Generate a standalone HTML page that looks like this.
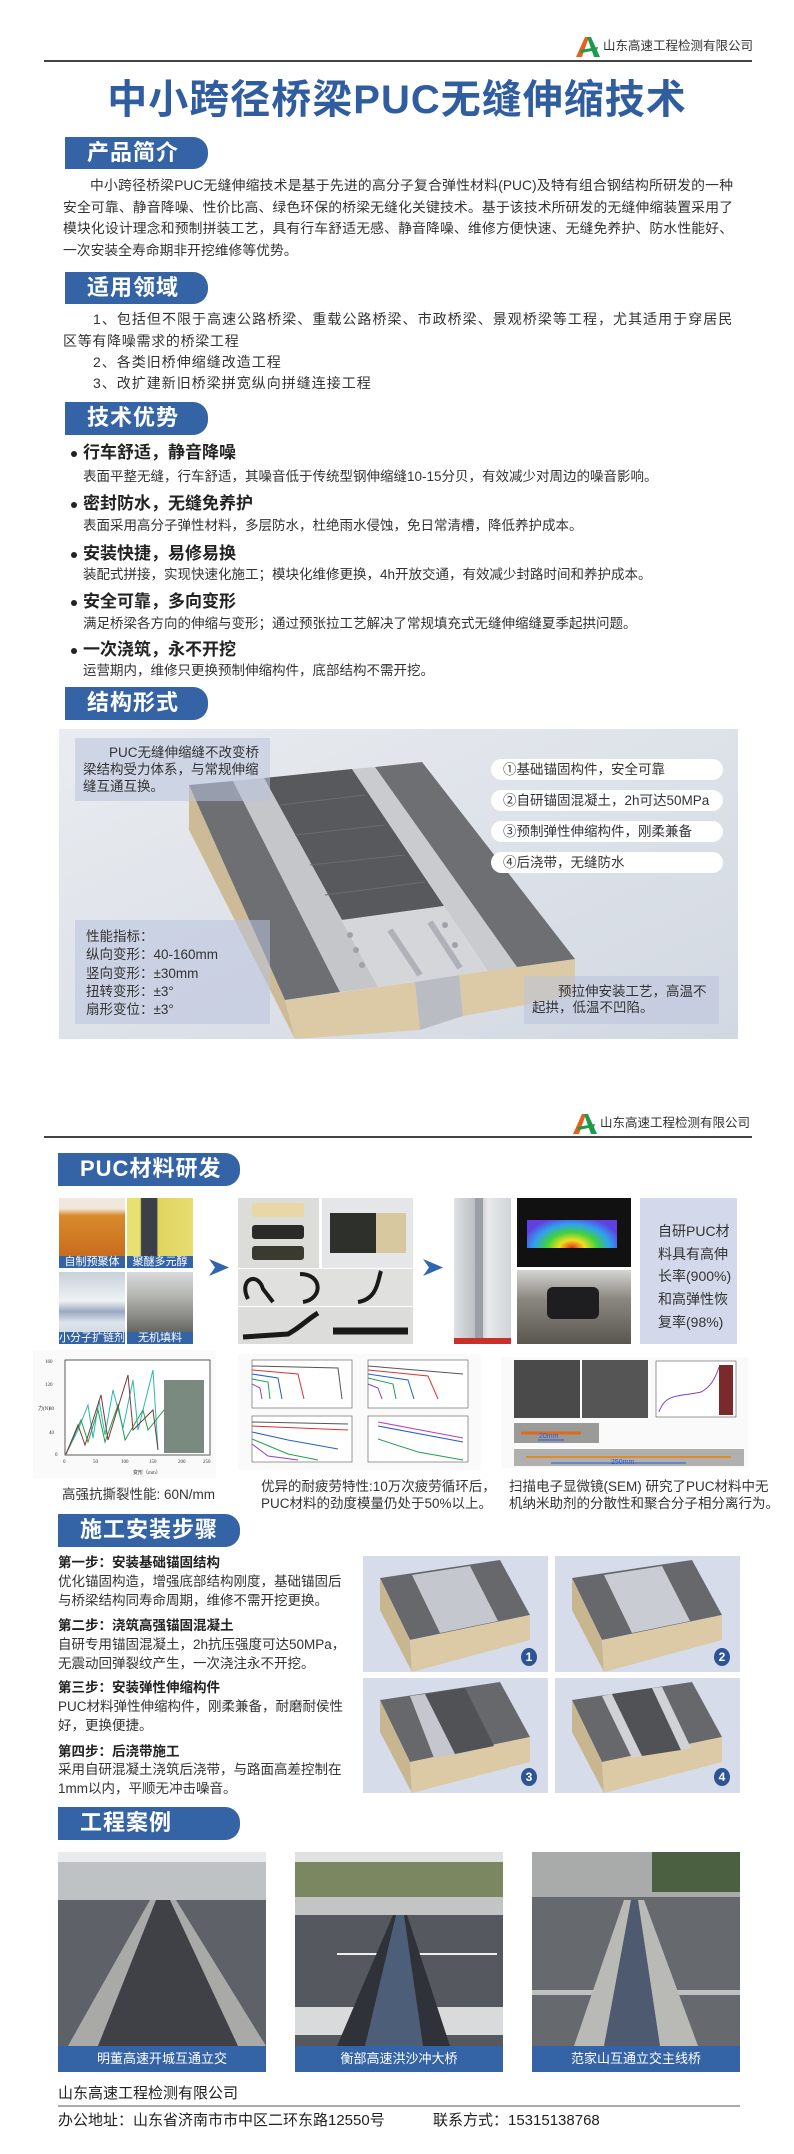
<!DOCTYPE html>
<html><head><meta charset="utf-8">
<style>
*{margin:0;padding:0;box-sizing:border-box}
body{width:794px;height:2154px;position:relative;background:#fff;font-family:"Liberation Sans","Noto Sans CJK SC",sans-serif;color:#333;overflow:hidden}
.a{position:absolute}
.tab{position:absolute;background:#3564a6;color:#fff;font-weight:bold;font-size:22px;border-radius:0 15px 15px 0;line-height:32px;padding-left:22px;letter-spacing:1px}
.t14{font-size:14px;line-height:21.6px;color:#333}
.bt{position:absolute;left:83px;font-size:17px;font-weight:bold;color:#222;line-height:20px}
.bt:before{content:"";position:absolute;left:-12px;top:8px;width:6px;height:6px;border-radius:50%;background:#222}
.bd{position:absolute;left:83px;font-size:13.5px;color:#333;line-height:18px}
.pill{position:absolute;left:491px;width:232px;height:21px;background:#fff;border-radius:11px;font-size:13.5px;line-height:21px;padding-left:12px;color:#333}
.box{position:absolute;background:rgba(185,195,220,0.55);font-size:13.5px;color:#333}
.st{position:absolute;left:58px;font-size:13.5px;font-weight:bold;color:#222;line-height:18px}
.sd{position:absolute;left:58px;font-size:13.5px;color:#333;line-height:18.5px;width:290px}
.lbl{position:absolute;background:#3564a6;color:#fff;font-size:11px;line-height:12px;text-align:center}
.cap{position:absolute;background:#3564a6;color:#fff;font-size:13px;line-height:26px;text-align:center;height:26px}
.num{position:absolute;width:16px;height:18px;border-radius:50%;background:#2d5496;color:#fff;font-size:12px;font-weight:bold;line-height:18px;text-align:center}
</style></head><body>

<svg class="a" style="left:576px;top:37px" width="26" height="20" viewBox="0 0 26 20"><polygon points="0,20 9,0 13,0 6,20" fill="#e8601c"/><polygon points="11,0 15,0 24,20 18,20" fill="#1e9b4a"/><polygon points="4,13 22,10 21,13 5,16" fill="#1e9b4a"/></svg>
<div class="a" style="left:603px;top:38px;font-size:12.5px;line-height:16px;color:#333">山东高速工程检测有限公司</div>
<div class="a" style="left:44px;top:60px;width:708px;height:2px;background:#444"></div>
<div class="a" style="left:0;width:794px;top:76px;text-align:center;font-size:40px;line-height:48px;font-weight:bold;color:#2f5d9f;letter-spacing:1px">中小跨径桥梁PUC无缝伸缩技术</div>

<div class="tab" style="left:65px;top:137px;width:143px;height:32px">产品简介</div>
<div class="a t14" style="left:63px;top:175px;width:670px;font-size:13.8px;text-align:justify;text-indent:27px">中小跨径桥梁PUC无缝伸缩技术是基于先进的高分子复合弹性材料(PUC)及特有组合钢结构所研发的一种安全可靠、静音降噪、性价比高、绿色环保的桥梁无缝化关键技术。基于该技术所研发的无缝伸缩装置采用了模块化设计理念和预制拼装工艺，具有行车舒适无感、静音降噪、维修方便快速、无缝免养护、防水性能好、一次安装全寿命期非开挖维修等优势。</div>

<div class="tab" style="left:65px;top:272px;width:143px;height:32px">适用领域</div>
<div class="a t14" style="left:63px;top:309px;width:670px;text-align:justify;text-indent:30px;letter-spacing:0.7px">1、包括但不限于高速公路桥梁、重载公路桥梁、市政桥梁、景观桥梁等工程，尤其适用于穿居民区等有降噪需求的桥梁工程</div>
<div class="a t14" style="left:93px;top:352px;letter-spacing:1px">2、各类旧桥伸缩缝改造工程</div>
<div class="a t14" style="left:93px;top:373px;letter-spacing:1px">3、改扩建新旧桥梁拼宽纵向拼缝连接工程</div>

<div class="tab" style="left:65px;top:402px;width:143px;height:33px">技术优势</div>
<div class="bt" style="top:443px">行车舒适，静音降噪</div>
<div class="bd" style="top:468px">表面平整无缝，行车舒适，其噪音低于传统型钢伸缩缝10-15分贝，有效减少对周边的噪音影响。</div>
<div class="bt" style="top:494px">密封防水，无缝免养护</div>
<div class="bd" style="top:517px">表面采用高分子弹性材料，多层防水，杜绝雨水侵蚀，免日常清槽，降低养护成本。</div>
<div class="bt" style="top:544px">安装快捷，易修易换</div>
<div class="bd" style="top:566px">装配式拼接，实现快速化施工；模块化维修更换，4h开放交通，有效减少封路时间和养护成本。</div>
<div class="bt" style="top:592px">安全可靠，多向变形</div>
<div class="bd" style="top:615px">满足桥梁各方向的伸缩与变形；通过预张拉工艺解决了常规填充式无缝伸缩缝夏季起拱问题。</div>
<div class="bt" style="top:640px">一次浇筑，永不开挖</div>
<div class="bd" style="top:662px">运营期内，维修只更换预制伸缩构件，底部结构不需开挖。</div>

<div class="tab" style="left:65px;top:687px;width:143px;height:33px">结构形式</div>

<svg class="a" style="left:59px;top:729px" width="679" height="310" viewBox="59 729 679 310">
<defs><linearGradient id="bg" x1="0" y1="0" x2="1" y2="1"><stop offset="0" stop-color="#e9ecf0"/><stop offset="1" stop-color="#d2d8e2"/></linearGradient></defs>
<rect x="59" y="729" width="679" height="310" fill="url(#bg)"/>
<polygon points="189,785 285,1000 295,1039 189,830" fill="#cdbb98"/>
<polygon points="285,1000 415,982 420,1030 295,1039" fill="#dccaa6"/>
<polygon points="459,975 575,959 575,996 463,1016" fill="#dccaa6"/>
<polygon points="415,982 459,975 463,1016 420,1030" fill="#b9bcc2"/>
<polygon points="189,785 233,781 340,992 285,1000" fill="#6d6f73"/>
<polygon points="233,781 264,778 378,987 340,992" fill="#c4c6c9"/>
<polygon points="264,778 352,769 444,906 342,920" fill="#58595d"/>
<g stroke="#6a6b70" stroke-width="1"><line x1="280" y1="805" x2="365" y2="795"/><line x1="295" y1="835" x2="385" y2="825"/><line x1="310" y1="865" x2="405" y2="855"/><line x1="325" y1="895" x2="425" y2="882"/></g>
<polygon points="352,769 375,767 517,967 488,971" fill="#c9cbce"/>
<polygon points="375,767 422,762 575,959 517,967" fill="#6d6f73"/>
<polygon points="342,920 444,906 488,971 378,987" fill="#d4d6da"/>
<g fill="#9ea2a8"><circle cx="350" cy="935" r="3"/><circle cx="356" cy="950" r="3"/><circle cx="362" cy="965" r="3"/><circle cx="445" cy="925" r="3"/><circle cx="455" cy="945" r="3"/></g>
<line x1="390" y1="930" x2="420" y2="975" stroke="#aeb2b8" stroke-width="6"/>
<line x1="430" y1="922" x2="460" y2="968" stroke="#aeb2b8" stroke-width="6"/>
</svg>
<div class="box" style="left:75px;top:738px;width:195px;height:63px;padding:6px 6px 0 8px;line-height:17px"><div style="text-indent:26px">PUC无缝伸缩缝不改变桥梁结构受力体系，与常规伸缩缝互通互换。</div></div>
<div class="pill" style="top:759px">①基础锚固构件，安全可靠</div>
<div class="pill" style="top:790px">②自研锚固混凝土，2h可达50MPa</div>
<div class="pill" style="top:821px">③预制弹性伸缩构件，刚柔兼备</div>
<div class="pill" style="top:852px">④后浇带，无缝防水</div>
<div class="box" style="left:75px;top:920px;width:195px;height:104px;padding:8px 0 0 11px;line-height:18.3px">性能指标：<br>纵向变形：40-160mm<br>竖向变形：±30mm<br>扭转变形：±3°<br>扇形变位：±3°</div>
<div class="box" style="left:524px;top:976px;width:195px;height:48px;padding:8px 8px 0 8px;line-height:16px"><div style="text-indent:26px">预拉伸安装工艺，高温不起拱，低温不凹陷。</div></div>

<svg class="a" style="left:573px;top:1114px" width="26" height="20" viewBox="0 0 26 20"><polygon points="0,20 9,0 13,0 6,20" fill="#e8601c"/><polygon points="11,0 15,0 24,20 18,20" fill="#1e9b4a"/><polygon points="4,13 22,10 21,13 5,16" fill="#1e9b4a"/></svg>
<div class="a" style="left:600px;top:1115px;font-size:12.5px;line-height:16px;color:#333">山东高速工程检测有限公司</div>
<div class="a" style="left:44px;top:1136px;width:708px;height:2px;background:#444"></div>

<div class="tab" style="left:58px;top:1153px;width:182px;height:33px">PUC材料研发</div>

<div class="a" style="left:59px;top:1198px;width:66px;height:70px;background:linear-gradient(#f0e8dc 0,#f0e8dc 15%,#d98a2c 25%,#c4641a 100%)"></div>
<div class="a" style="left:127px;top:1198px;width:66px;height:70px;background:linear-gradient(90deg,#e8e070 0,#e8e070 20%,#3a3f48 22%,#3a3f48 45%,#e0d460 47%,#e6dc70 100%)"></div>
<div class="a" style="left:59px;top:1272px;width:66px;height:72px;background:linear-gradient(#c8d0d8,#eef2f6 40%,#9aa8c0 55%,#dde4ec 70%,#c7ced6)"></div>
<div class="a" style="left:127px;top:1272px;width:66px;height:72px;background:linear-gradient(#d8dadc,#b8bab6 30%,#8c8c88 60%,#4a4a48)"></div>
<div class="lbl" style="left:59px;top:1256px;width:66px">自制预聚体</div>
<div class="lbl" style="left:127px;top:1256px;width:66px">聚醚多元醇</div>
<div class="lbl" style="left:59px;top:1332px;width:66px">小分子扩链剂</div>
<div class="lbl" style="left:127px;top:1332px;width:66px">无机填料</div>
<svg class="a" style="left:209px;top:1259px" width="20" height="17"><polygon points="0,0 20,8.5 0,17 6,8.5" fill="#2f65b0"/></svg>
<div class="a" style="left:238px;top:1198px;width:81px;height:70px;background:#dcdcd8"></div>
<div class="a" style="left:252px;top:1203px;width:52px;height:14px;background:#e8d8a8;border-radius:3px"></div>
<div class="a" style="left:252px;top:1225px;width:52px;height:14px;background:#2a2a28;border-radius:3px"></div>
<div class="a" style="left:252px;top:1246px;width:52px;height:14px;background:#3a3a30;border-radius:3px"></div>
<div class="a" style="left:322px;top:1198px;width:91px;height:70px;background:#e4e6e8"></div>
<div class="a" style="left:330px;top:1213px;width:46px;height:40px;background:#2e302c"></div>
<div class="a" style="left:376px;top:1213px;width:30px;height:40px;background:#d8c8a0"></div>
<div class="a" style="left:238px;top:1269px;width:175px;height:37px;background:#e0e0de"></div>
<div class="a" style="left:238px;top:1307px;width:175px;height:37px;background:#dcdcda"></div>
<svg class="a" style="left:238px;top:1269px" width="175" height="75"><path d="M10,30 C0,10 20,2 25,20 L35,33" stroke="#1a1a1a" stroke-width="4" fill="none"/><path d="M65,33 C85,30 85,5 62,5" stroke="#1a1a1a" stroke-width="4" fill="none"/><path d="M120,33 C140,30 140,10 143,2" stroke="#1a1a1a" stroke-width="4" fill="none"/><path d="M5,68 L50,65 C60,60 70,50 80,44" stroke="#1a1a1a" stroke-width="5" fill="none"/><path d="M95,62 L170,62" stroke="#1a1a1a" stroke-width="7"/></svg>
<svg class="a" style="left:423px;top:1259px" width="20" height="17"><polygon points="0,0 20,8.5 0,17 6,8.5" fill="#2f65b0"/></svg>
<div class="a" style="left:454px;top:1198px;width:57px;height:146px;background:linear-gradient(90deg,#dfe2e4,#b8bcc0 40%,#e8eaec 60%,#d0d4d8)"></div>
<div class="a" style="left:475px;top:1198px;width:8px;height:146px;background:#9aa0a6"></div>
<div class="a" style="left:454px;top:1338px;width:57px;height:6px;background:#c8302a"></div>
<div class="a" style="left:517px;top:1198px;width:114px;height:69px;background:#111"></div>
<div class="a" style="left:527px;top:1220px;width:90px;height:28px;background:radial-gradient(ellipse at 50% 100%,#e03020 0,#f0e020 20%,#40d040 40%,#30a0f0 60%,#6040e0 80%);"></div>
<div class="a" style="left:517px;top:1270px;width:114px;height:74px;background:linear-gradient(#d4d4d2,#8a8680 40%,#5a5650)"></div>
<div class="a" style="left:547px;top:1287px;width:52px;height:32px;background:#1e1e20;border-radius:6px"></div>
<div class="a" style="left:640px;top:1198px;width:97px;height:146px;background:#d3d9ea"></div>
<div class="a" style="left:658px;top:1220px;font-size:14px;line-height:22.7px;color:#333">自研PUC材<br>料具有高伸<br>长率(900%)<br>和高弹性恢<br>复率(98%)</div>

<svg class="a" style="left:33px;top:1350px" width="183" height="128" viewBox="0 0 183 128">
<rect width="183" height="128" fill="#fafafa"/>
<rect x="32" y="10" width="145" height="95" fill="#fff" stroke="#333" stroke-width="0.8"/>
<g font-size="5" fill="#333" font-family="Liberation Serif"><text x="12" y="13">160</text><text x="12" y="36">120</text><text x="16" y="60">80</text><text x="16" y="84">40</text><text x="22" y="106">0</text><text x="30" y="113">0</text><text x="60" y="113">50</text><text x="88" y="113">100</text><text x="116" y="113">150</text><text x="145" y="113">200</text><text x="170" y="113">250</text><text x="100" y="124">变形（mm）</text><text x="5" y="60">力(N)</text></g>
<polyline points="33,104 45,80 55,55 60,88 66,50 72,85 80,40 90,78 100,30 105,80 120,20 125,100" stroke="#2cb8b0" fill="none" stroke-width="1"/>
<polyline points="33,104 48,70 55,92 65,60 72,92 85,55 92,90 110,60 115,80 135,55" stroke="#2a9a50" fill="none" stroke-width="1"/>
<polyline points="33,104 45,75 52,95 68,45 75,90 95,25 100,80 120,60 125,100" stroke="#7a3a3a" fill="none" stroke-width="1"/>
<rect x="131" y="30" width="40" height="73" fill="#7a8a80"/>
</svg>
<svg class="a" style="left:238px;top:1354px" width="243" height="116" viewBox="0 0 243 116">
<rect width="243" height="116" fill="#fafafa"/>
<g fill="#fff" stroke="#555" stroke-width="0.6"><rect x="14" y="6" width="100" height="48"/><rect x="130" y="6" width="100" height="48"/><rect x="14" y="62" width="100" height="46"/><rect x="130" y="62" width="100" height="46"/></g>
<g fill="none" stroke-width="1"><polyline points="14,12 100,14 104,45" stroke="#555"/><polyline points="14,16 60,20 66,45" stroke="#e03030"/><polyline points="14,20 40,24 44,45" stroke="#2060d0"/><polyline points="14,25 30,28 32,45" stroke="#20a050"/><polyline points="14,30 22,34 24,45" stroke="#9040c0"/>
<polyline points="130,12 225,20" stroke="#555"/><polyline points="130,16 190,22 200,45" stroke="#e03030"/><polyline points="130,20 170,26 176,45" stroke="#2060d0"/><polyline points="130,24 155,30 158,45" stroke="#20a050"/><polyline points="130,30 140,34 144,45" stroke="#9040c0"/>
<polyline points="14,68 110,70" stroke="#555"/><polyline points="14,72 110,76" stroke="#e03030"/><polyline points="14,78 50,86 100,95" stroke="#2060d0"/><polyline points="14,85 50,100 80,106" stroke="#20a050"/><polyline points="14,90 30,102 60,106" stroke="#9040c0"/>
<polyline points="140,68 225,84" stroke="#c040c0"/><polyline points="140,72 225,88" stroke="#2060d0"/><polyline points="140,85 180,98 225,106" stroke="#20a050"/></g>
</svg>
<svg class="a" style="left:501px;top:1357px" width="247" height="111" viewBox="0 0 247 111">
<rect width="247" height="111" fill="#fafafa"/>
<rect x="13" y="3" width="66" height="58" fill="#4a4a4a"/><rect x="81" y="3" width="66" height="58" fill="#555"/>
<rect x="155" y="4" width="80" height="56" fill="#fff" stroke="#555" stroke-width="0.6"/>
<path d="M158,55 C165,35 180,40 200,35 C210,30 215,20 218,10" stroke="#8040c0" fill="none"/><rect x="218" y="8" width="14" height="50" fill="#7a2a2a"/>
<rect x="13" y="66" width="85" height="20" fill="#9a9a98"/><line x1="20" y1="76" x2="80" y2="76" stroke="#e06a1a" stroke-width="3"/>
<rect x="13" y="92" width="230" height="17" fill="#b0b0ae"/><line x1="25" y1="100" x2="230" y2="100" stroke="#e08a2a" stroke-width="2"/>
<line x1="50" y1="106" x2="185" y2="106" stroke="#2a5ad0" stroke-width="1"/><text x="110" y="107" font-size="7" fill="#2a5ad0" font-family="Liberation Sans">250mm</text>
<line x1="37" y1="83" x2="63" y2="83" stroke="#2a5ad0" stroke-width="1"/><text x="38" y="81" font-size="7" fill="#2a5ad0" font-family="Liberation Sans">20mm</text>
</svg>
<div class="a" style="left:62px;top:1486px;font-size:13.5px;line-height:18px">高强抗撕裂性能: 60N/mm</div>
<div class="a" style="left:261px;top:1478px;font-size:13.5px;line-height:17px">优异的耐疲劳特性:10万次疲劳循环后，<br>PUC材料的劲度模量仍处于50%以上。</div>
<div class="a" style="left:509px;top:1478px;font-size:13.5px;line-height:17px;white-space:nowrap">扫描电子显微镜(SEM) 研究了PUC材料中无<br>机纳米助剂的分散性和聚合分子相分离行为。</div>

<div class="tab" style="left:58px;top:1514px;width:182px;height:33px">施工安装步骤</div>
<div class="st" style="top:1554px">第一步：安装基础锚固结构</div>
<div class="sd" style="top:1573px">优化锚固构造，增强底部结构刚度，基础锚固后与桥梁结构同寿命周期，维修不需开挖更换。</div>
<div class="st" style="top:1617px">第二步：浇筑高强锚固混凝土</div>
<div class="sd" style="top:1636px">自研专用锚固混凝土，2h抗压强度可达50MPa，无震动回弹裂纹产生，一次浇注永不开挖。</div>
<div class="st" style="top:1679px">第三步：安装弹性伸缩构件</div>
<div class="sd" style="top:1698px">PUC材料弹性伸缩构件，刚柔兼备，耐磨耐侯性好，更换便捷。</div>
<div class="st" style="top:1743px">第四步：后浇带施工</div>
<div class="sd" style="top:1761px">采用自研混凝土浇筑后浇带，与路面高差控制在1mm以内，平顺无冲击噪音。</div>

<svg class="a" style="left:363px;top:1556px" width="377" height="237" viewBox="363 1556 377 237">
<rect x="363" y="1556" width="185" height="116" fill="#d6dcea"/><rect x="555" y="1556" width="185" height="116" fill="#d6dcea"/>
<rect x="363" y="1678" width="185" height="115" fill="#d6dcea"/><rect x="555" y="1678" width="185" height="115" fill="#d6dcea"/>
<polygon points="380,1578 500,1560 530,1615 410,1640" fill="#66686c"/>
<polygon points="380,1578 410,1640 412,1672 380,1610" fill="#c8b690"/>
<polygon points="410,1640 530,1615 530,1640 412,1672" fill="#dccaa6"/>
<polygon points="412,1575 470,1566 498,1621 440,1633" fill="#c4c8ce"/>
<polygon points="572,1578 692,1560 722,1615 602,1640" fill="#66686c"/><polygon points="572,1578 602,1640 604,1672 572,1610" fill="#c8b690"/><polygon points="602,1640 722,1615 722,1640 604,1672" fill="#dccaa6"/>
<polygon points="604,1575 662,1566 690,1621 632,1633" fill="#c9ccd2"/>
<polygon points="380,1700 500,1682 530,1737 410,1762" fill="#66686c"/><polygon points="380,1700 410,1762 412,1793 380,1732" fill="#c8b690"/><polygon points="410,1762 530,1737 530,1762 412,1793" fill="#dccaa6"/>
<polygon points="410,1696 440,1692 470,1752 434,1758" fill="#c4c8ce"/><polygon points="425,1694 465,1688 494,1746 455,1754" fill="#505256"/>
<polygon points="572,1700 692,1682 722,1737 602,1762" fill="#66686c"/><polygon points="572,1700 602,1762 604,1793 572,1732" fill="#c8b690"/><polygon points="602,1762 722,1737 722,1762 604,1793" fill="#dccaa6"/>
<polygon points="602,1696 612,1694 642,1756 632,1758" fill="#d0d2d6"/><polygon points="612,1694 652,1688 681,1750 642,1756" fill="#505256"/><polygon points="652,1688 662,1687 691,1748 681,1750" fill="#d0d2d6"/>
</svg>
<div class="num" style="left:521px;top:1648px">1</div>
<div class="num" style="left:714px;top:1648px">2</div>
<div class="num" style="left:521px;top:1768px">3</div>
<div class="num" style="left:714px;top:1768px">4</div>

<div class="tab" style="left:58px;top:1807px;width:182px;height:33px">工程案例</div>

<svg class="a" style="left:58px;top:1852px" width="208" height="194" viewBox="0 0 208 194">
<rect width="208" height="194" fill="#5e6168"/><rect width="208" height="12" fill="#e8eaec"/><rect y="10" width="208" height="38" fill="#bfc2c4"/>
<polygon points="92,48 118,48 208,194 10,194" fill="#a9aaa8"/><polygon points="98,48 112,48 180,194 40,194" fill="#3f4146"/>
</svg>
<svg class="a" style="left:295px;top:1852px" width="208" height="194" viewBox="0 0 208 194">
<rect width="208" height="194" fill="#55585f"/><rect width="208" height="45" fill="#7a8760"/><rect y="0" width="208" height="10" fill="#dfe2e0"/><rect y="45" width="208" height="18" fill="#c3c5c4"/>
<rect x="42" y="101" width="48" height="2" fill="#eee"/><rect x="122" y="101" width="80" height="2" fill="#eee"/>
<rect y="155" width="208" height="28" fill="#d9dadb"/>
<polygon points="98,63 112,63 155,194 42,194" fill="#2f3238"/><polygon points="101,63 109,63 128,194 70,194" fill="#4d5e78"/>
</svg>
<svg class="a" style="left:532px;top:1852px" width="208" height="194" viewBox="0 0 208 194">
<rect width="208" height="194" fill="#66696e"/><rect width="208" height="45" fill="#a8aba9"/><rect x="120" y="0" width="88" height="40" fill="#4a6040"/>
<rect y="138" width="208" height="5" fill="#bfc0c0"/>
<polygon points="92,48 112,48 166,194 42,194" fill="#b9bab6"/><polygon points="99,48 106,48 128,194 72,194" fill="#4e5a70"/>
</svg>
<div class="cap" style="left:58px;top:2046px;width:208px">明董高速开城互通立交</div>
<div class="cap" style="left:295px;top:2046px;width:208px">衡部高速洪沙冲大桥</div>
<div class="cap" style="left:532px;top:2046px;width:208px">范家山互通立交主线桥</div>

<div class="a" style="left:58px;top:2084px;font-size:15px;line-height:20px;color:#222">山东高速工程检测有限公司</div>
<div class="a" style="left:58px;top:2105px;width:682px;height:2px;background:#aaa"></div>
<div class="a" style="left:58px;top:2111px;font-size:15px;line-height:20px;color:#222">办公地址：山东省济南市市中区二环东路12550号</div>
<div class="a" style="left:433px;top:2111px;font-size:15px;line-height:20px;color:#222">联系方式：15315138768</div>
</body></html>
